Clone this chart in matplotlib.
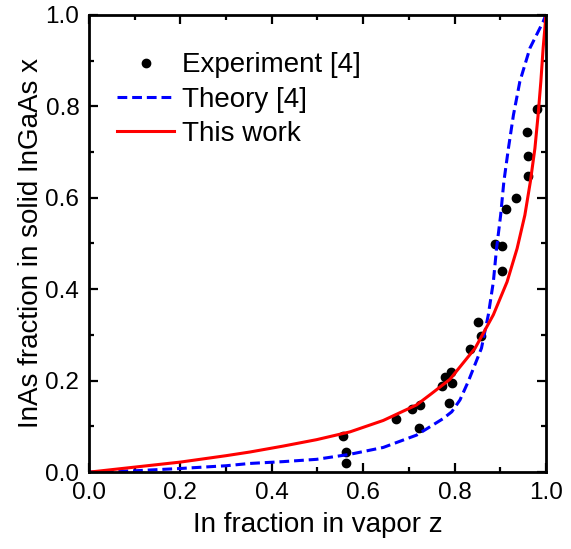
import matplotlib
matplotlib.use("Agg")
import matplotlib.pyplot as plt
from matplotlib.ticker import MultipleLocator

plt.rcParams['font.family'] = ['Liberation Sans', 'DejaVu Sans']

# Experiment [4]: In fraction in vapor z vs InAs fraction in solid x
exp_z = [0.555, 0.563, 0.563, 0.671, 0.707, 0.724, 0.722, 0.772, 0.779, 0.793,
         0.794, 0.789, 0.833, 0.851, 0.858, 0.889, 0.903, 0.904, 0.912, 0.934,
         0.961, 0.961, 0.958, 0.981]
exp_x = [0.078, 0.044, 0.019, 0.117, 0.139, 0.147, 0.096, 0.188, 0.209, 0.219,
         0.196, 0.151, 0.269, 0.328, 0.297, 0.499, 0.494, 0.439, 0.575, 0.599,
         0.647, 0.692, 0.744, 0.794]

# Theory [4]
theory_z = [0.0, 0.1, 0.2, 0.3, 0.352, 0.425, 0.498, 0.571, 0.644, 0.717,
            0.775, 0.794, 0.812, 0.830, 0.859, 0.874, 0.885, 0.892, 0.901,
            0.908, 0.918, 0.929, 0.943, 0.965, 0.994, 1.0]
theory_x = [0.0, 0.003, 0.008, 0.014, 0.019, 0.023, 0.028, 0.039, 0.054, 0.081,
            0.117, 0.132, 0.158, 0.198, 0.271, 0.344, 0.416, 0.489, 0.562,
            0.635, 0.708, 0.781, 0.854, 0.927, 0.985, 1.0]

# This work
work_z = [0.0, 0.1, 0.2, 0.3, 0.352, 0.425, 0.498, 0.571, 0.644, 0.717, 0.750,
          0.790, 0.845, 0.885, 0.915, 0.937, 0.954, 0.966, 0.976, 0.983, 0.989,
          0.994, 0.999, 1.0]
work_x = [0.0, 0.011, 0.022, 0.036, 0.044, 0.057, 0.071, 0.088, 0.113, 0.147,
          0.172, 0.203, 0.271, 0.344, 0.416, 0.489, 0.562, 0.635, 0.708, 0.781,
          0.854, 0.927, 0.985, 1.0]

fig = plt.figure(figsize=(5.71, 5.49), dpi=100)
ax = fig.add_axes([0.156, 0.140, 0.800, 0.833])

ax.plot(exp_z, exp_x, 'o', color='black', markersize=6, label='Experiment [4]')
ax.plot(theory_z, theory_x, '--', color='blue', linewidth=2.2, dashes=(3.2, 1.6),
        label='Theory [4]')
ax.plot(work_z, work_x, '-', color='red', linewidth=2.2, label='This work')

ax.set_xlim(0, 1)
ax.set_ylim(0, 1)
ax.xaxis.set_major_locator(MultipleLocator(0.2))
ax.xaxis.set_minor_locator(MultipleLocator(0.1))
ax.yaxis.set_major_locator(MultipleLocator(0.2))
ax.yaxis.set_minor_locator(MultipleLocator(0.1))
ax.xaxis.set_major_formatter(lambda v, p: f"{v:.1f}")
ax.yaxis.set_major_formatter(lambda v, p: f"{v:.1f}")
ax.tick_params(which='both', direction='in', top=True, right=True, width=1.6,
               labelsize=17.5)
ax.tick_params(which='major', length=6.5, pad=7)
ax.tick_params(which='minor', length=3.5)
for s in ax.spines.values():
    s.set_linewidth(2)

ax.set_xlabel('In fraction in vapor z', fontsize=20, labelpad=6)
ax.set_ylabel('InAs fraction in solid InGaAs x', fontsize=20, labelpad=1)

ax.legend(loc='upper left', bbox_to_anchor=(0.062, 0.918), frameon=False,
          fontsize=20, numpoints=1, handlelength=2.05, handletextpad=0.29,
          labelspacing=0.3, borderpad=0, borderaxespad=0)

fig.savefig('out.png', dpi=100)
